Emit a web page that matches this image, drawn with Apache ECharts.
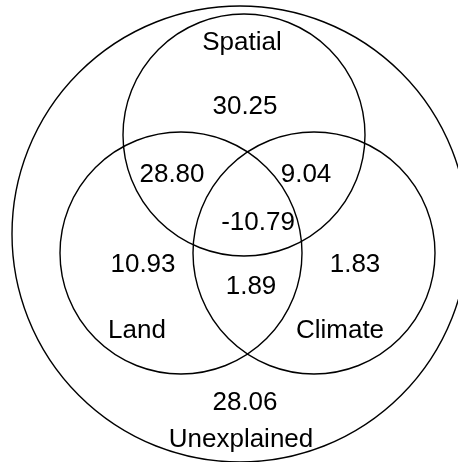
<!DOCTYPE html>
<html>
<head>
<meta charset="utf-8">
<script src="https://cdn.jsdelivr.net/npm/echarts@6/dist/echarts.min.js"></script>
<style>html,body{margin:0;padding:0;background:#fff;}#c{width:458px;height:462px;}</style>
</head>
<body>
<div id="c"></div>
<script>
// Venn circles (data units)
const circleNames = ['Total', 'Spatial', 'Land', 'Climate'];
const circleCx = [240, 244, 181, 314];
const circleCy = [234, 135, 253, 253];
const circleR = [228, 121, 121, 121];

// Region values (variance partition, %)
const regionNames = ['Spatial only', 'Spatial∩Land', 'Spatial∩Climate', 'All', 'Land only', 'Climate only', 'Land∩Climate', 'Unexplained'];
const regionValues = [30.25, 28.80, 9.04, -10.79, 10.93, 1.83, 1.89, 28.06];
const regionX = [245, 172, 306, 258, 143, 355, 251, 245];
const regionY = [107, 175, 175, 223, 265, 265, 287, 403];

// Set names
const setLabels = ['Spatial', 'Land', 'Climate', 'Unexplained'];
const setX = [242, 137, 340, 241];
const setY = [43, 331, 331, 440];

const chart = echarts.init(document.getElementById('c'), null, {renderer: 'canvas'});
const FONT = 'Liberation Sans, Arial, sans-serif';
const makeText = (texts) => (params, api) => {
  const p = api.coord([api.value(0), api.value(1)]);
  return {
    type: 'text',
    x: p[0], y: p[1],
    style: {
      text: texts[params.dataIndex],
      fontSize: 26, fontFamily: FONT, fill: '#000',
      align: 'center', verticalAlign: 'middle'
    }
  };
};
chart.setOption({
  animation: false,
  grid: {left: 0, right: 0, top: 0, bottom: 0},
  xAxis: {type: 'value', min: 0, max: 458, show: false},
  yAxis: {type: 'value', min: 0, max: 462, inverse: true, show: false},
  series: [
    {
      type: 'custom',
      clip: false,
      data: circleCx.map((x, i) => [x, circleCy[i], circleR[i]]),
      renderItem: (params, api) => {
        const c = api.coord([api.value(0), api.value(1)]);
        const r = api.size([api.value(2), 0])[0];
        return {
          type: 'circle',
          shape: {cx: c[0], cy: c[1], r: r},
          style: {fill: 'none', stroke: '#000', lineWidth: 1.4}
        };
      }
    },
    {
      type: 'custom',
      data: regionValues.map((v, i) => [regionX[i], regionY[i]]),
      renderItem: makeText(regionValues.map(v => v.toFixed(2)))
    },
    {
      type: 'custom',
      data: setLabels.map((s, i) => [setX[i], setY[i]]),
      renderItem: makeText(setLabels)
    }
  ]
});
</script>
</body>
</html>
